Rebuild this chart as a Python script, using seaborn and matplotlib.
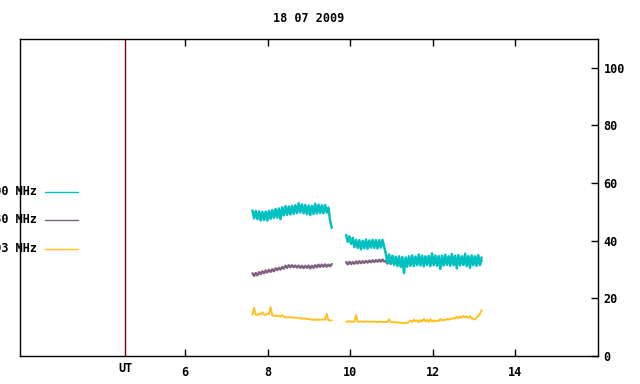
import numpy as np
import pandas as pd
import matplotlib
matplotlib.use("Agg")
import matplotlib.pyplot as plt
import seaborn as sns
from matplotlib.lines import Line2D
from matplotlib.transforms import blended_transform_factory

sns.set_theme(style="white")
plt.rcParams['font.family'] = ['DejaVu Sans Mono']
plt.rcParams['font.weight'] = 'bold'

title = "18 07 2009"
bands = ["2800 MHz", "1380 MHz", "1003 MHz"]
colors = ["#00c0c0", "#806080", "#ffc020"]
xticks = [6, 8, 10, 12, 14]
yticks = [0, 20, 40, 60, 80, 100]
ut_pos = 4.55

step = 0.04
seg1_start = 7.63
seg2_start = 9.90

cyan1 = [50.5, 47.8, 50.3, 47.5, 50.2, 47.0, 50.0, 47.2, 50.1, 47.0,
         50.4, 47.6, 50.6, 47.9, 51.0, 48.0, 51.2, 47.5, 51.6, 48.8,
         52.0, 49.0, 51.9, 49.1, 52.1, 49.3, 52.3, 49.6, 53.0, 49.8,
         52.6, 49.5, 52.4, 49.2, 52.2, 48.9, 52.1, 49.3, 52.8, 49.4,
         52.5, 49.6, 52.3, 49.5, 52.4, 49.8, 51.5, 47.0, 44.5]
purple1 = [28.7, 27.8, 28.8, 28.0, 29.1, 28.4, 29.4, 28.7, 29.7, 29.0,
           29.9, 29.2, 30.1, 29.4, 30.4, 29.8, 30.6, 30.0, 30.9, 30.3,
           31.3, 30.6, 31.5, 30.8, 31.5, 30.8, 31.4, 30.7, 31.4, 30.6,
           31.3, 30.5, 31.3, 30.6, 31.4, 30.4, 31.3, 30.6, 31.5, 30.8,
           31.7, 30.9, 31.7, 31.0, 31.8, 31.0, 31.7, 31.1, 31.9]
yellow1 = [14.3, 16.7, 14.3, 14.3, 14.6, 14.5, 15.2, 14.3, 14.3, 14.6,
           14.5, 17.0, 14.0, 14.0, 13.9, 13.9, 13.8, 13.7, 14.2, 13.7,
           13.4, 13.4, 13.4, 13.4, 13.4, 13.3, 13.3, 13.3, 13.3, 13.0,
           13.0, 13.0, 13.0, 12.9, 12.8, 12.7, 12.6, 12.6, 12.6, 12.6,
           12.6, 12.6, 12.7, 12.6, 12.6, 14.6, 12.4, 12.4, 12.3]

cyan2 = [42.0, 39.6, 41.5, 38.9, 41.0, 37.8, 40.3, 37.5, 40.2, 37.0,
         40.0, 37.4, 40.4, 37.2, 40.1, 37.6, 40.3, 37.5, 40.2, 37.3,
         40.2, 37.6, 40.3, 37.9, 35.5, 32.5, 35.2, 32.0, 34.8, 31.6,
         34.5, 31.2, 34.6, 30.9, 34.4, 28.8, 34.2, 31.0, 34.6, 31.3,
         34.9, 31.2, 34.5, 31.5, 35.2, 31.4, 34.8, 31.1, 34.6, 31.6,
         34.7, 31.2, 35.6, 31.5, 34.9, 31.3, 34.7, 30.2, 34.8, 31.4,
         35.1, 31.6, 34.6, 31.3, 35.4, 31.5, 34.8, 30.4, 35.0, 31.4,
         34.6, 31.6, 35.5, 31.2, 34.7, 30.6, 34.9, 31.5, 34.6, 31.3,
         35.0, 31.5, 34.2]
purple2 = [32.6, 31.8, 32.7, 31.9, 32.6, 32.0, 32.8, 32.1, 32.9, 32.2,
           32.9, 32.3, 33.0, 32.4, 33.1, 32.5, 33.2, 32.6, 33.3, 32.7,
           33.4, 32.7, 33.5, 32.8,
           33.0, 32.1, 33.1, 32.0, 33.0, 32.2, 33.1, 32.0, 33.2, 32.1,
           33.0, 32.2, 33.1, 32.1, 33.0, 32.0, 33.1, 32.2, 33.0, 32.1,
           33.2, 32.0, 33.1, 32.1, 33.0, 32.2, 33.1, 32.0, 33.0, 32.1,
           33.2, 32.2, 33.1, 32.0, 33.0, 32.1, 33.1, 32.2, 33.0, 32.1,
           33.2, 32.0, 33.1, 32.1, 33.0, 32.2, 33.1, 32.0, 33.0, 32.1,
           33.2, 32.2, 33.1, 32.0, 33.0, 32.1, 33.1, 32.2, 33.0]
yellow2 = [11.9, 11.9, 12.0, 11.9, 11.9, 11.9, 14.2, 11.9, 11.9, 12.0,
           11.9, 11.9, 11.9, 12.0, 11.9, 11.9, 11.9, 12.0, 11.9, 11.8,
           11.9, 11.9, 11.8, 11.8, 11.8, 11.8, 12.7, 11.8, 11.7, 11.7,
           11.7, 11.6, 11.6, 11.5, 11.4, 11.5, 11.4, 11.5, 11.9, 12.3,
           11.8, 12.6, 12.0, 12.4, 11.7, 12.5, 11.9, 12.9, 12.0, 12.6,
           11.8, 12.8, 11.9, 12.4, 12.0, 12.3, 12.2, 12.8, 12.3, 12.6,
           12.4, 12.9, 12.6, 13.1, 12.8, 13.2, 13.0, 13.6, 13.1, 13.7,
           13.3, 13.9, 13.4, 13.8, 13.2, 13.9, 13.1, 12.8, 12.7, 13.4,
           13.8, 14.6, 15.9]

rows = []
for seg, start, series in [(1, seg1_start, [cyan1, purple1, yellow1]),
                           (2, seg2_start, [cyan2, purple2, yellow2])]:
    for band, vals in zip(bands, series):
        t = start + step * np.arange(len(vals))
        for ti, v in zip(t, vals):
            rows.append((band, seg, ti, v))
df = pd.DataFrame(rows, columns=["band", "seg", "time", "value"])

fig = plt.figure(figsize=(6.4, 3.84), dpi=100)
ax = fig.add_axes([20 / 640, 1 - 356 / 384, 578 / 640, 317 / 384])

widths = {bands[0]: 1.8, bands[1]: 1.7, bands[2]: 1.4}
for band in bands[::-1]:
    sub = df[df["band"] == band]
    sns.lineplot(data=sub, x="time", y="value", units="seg",
                 estimator=None, color=dict(zip(bands, colors))[band],
                 lw=widths[band], ax=ax, legend=False, sort=True)

ax.axvline(ut_pos, color="#7f0000", lw=1.0)

ax.set_xlim(2, 16)
ax.set_ylim(0, 110)
ax.set_xlabel("")
ax.set_ylabel("")
for s in ax.spines.values():
    s.set_color("black")
    s.set_linewidth(1.0)

ax.set_xticks(xticks)
ax.set_xticklabels([str(v) for v in xticks])
ax.tick_params(axis="x", direction="in", length=5, width=1, top=True,
               bottom=True, labelsize=8.5, pad=7, colors="black")
ax.yaxis.tick_right()
ax.set_yticks(yticks)
ax.set_yticklabels([str(v) for v in yticks])
ax.tick_params(axis="y", direction="in", length=5, width=1, right=True,
               left=False, labelsize=8.5, pad=4, colors="black")

tr = blended_transform_factory(ax.transData, ax.transAxes)
ax.text(ut_pos, -12 / 317, "UT", transform=tr, ha="center", va="center",
        fontsize=8.5, fontweight="bold", color="black")

fig.text(309 / 640, 1 - 18 / 384, title, ha="center", va="center",
         fontsize=8.5, fontweight="bold", color="black")

legend_y = [191.5, 219.5, 248.5]
for band, col, yp in zip(bands, colors, legend_y):
    yf = 1 - yp / 384
    fig.text(37 / 640, yf, band, ha="right", va="center", fontsize=8.5,
             fontweight="bold", color="black")
    fig.add_artist(Line2D([45 / 640, 78 / 640], [yf, yf], color=col, lw=1.0,
                          transform=fig.transFigure))

fig.savefig("out.png", dpi=100)
